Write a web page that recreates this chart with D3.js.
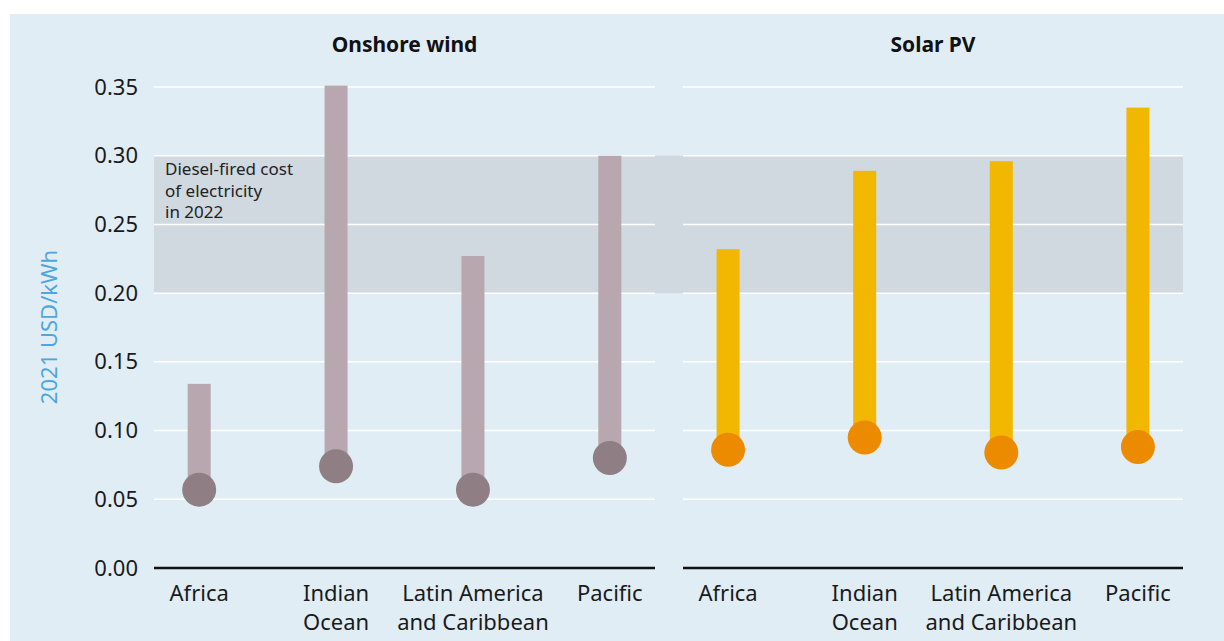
<!DOCTYPE html>
<html>
<head>
<meta charset="utf-8">
<script src="https://d3js.org/d3.v7.min.js"></script>
<style>
  body { margin: 0; background: #fff; }
  text { font-family: "Noto Sans", sans-serif; }
</style>
</head>
<body>
<script>
// data
var regions = ['Africa', 'Indian Ocean', 'Latin America and Caribbean', 'Pacific'];
var regionLines = [['Africa'], ['Indian', 'Ocean'], ['Latin America', 'and Caribbean'], ['Pacific']];
var techs = ['Onshore wind', 'Solar PV'];
var windHigh = [0.134, 0.351, 0.227, 0.300];
var windLow = [0.057, 0.074, 0.057, 0.080];
var solarHigh = [0.232, 0.289, 0.296, 0.335];
var solarLow = [0.086, 0.095, 0.084, 0.088];
var yTicks = [0, 0.05, 0.10, 0.15, 0.20, 0.25, 0.30, 0.35];
var dieselBand = [0.20, 0.30];

var W = 1224, H = 641;
var svg = d3.select('body').append('svg').attr('width', W).attr('height', H);

svg.append('rect').attr('x', 10).attr('y', 14).attr('width', W - 10).attr('height', H - 14)
  .attr('fill', '#e1edf5');

var y = d3.scaleLinear().domain([0, 0.35]).range([568, 87]);

var panels = [
  { name: techs[0], x0: 154, x1: 655, high: windHigh, low: windLow, bar: '#b8a7ae', dot: '#8f7f84' },
  { name: techs[1], x0: 683, x1: 1183, high: solarHigh, low: solarLow, bar: '#f2b700', dot: '#ec8a00' }
];

// diesel band across both panels
svg.append('rect')
  .attr('x', panels[0].x0).attr('width', panels[1].x1 - panels[0].x0)
  .attr('y', y(dieselBand[1])).attr('height', y(dieselBand[0]) - y(dieselBand[1]))
  .attr('fill', '#d0d8e0');

panels.forEach(function(p) {
  var x = d3.scalePoint().domain(regions).range([p.x0, p.x1]).padding(0.33);
  var g = svg.append('g');

  // grid
  g.selectAll('line.grid').data(yTicks.slice(1)).enter().append('line')
    .attr('x1', p.x0).attr('x2', p.x1)
    .attr('y1', function(d) { return y(d); }).attr('y2', function(d) { return y(d); })
    .attr('stroke', '#ffffff').attr('stroke-width', 1.5);

  // bars
  g.selectAll('rect.bar').data(regions).enter().append('rect')
    .attr('x', function(d) { return x(d) - 11.5; })
    .attr('width', 23)
    .attr('y', function(d, i) { return y(p.high[i]); })
    .attr('height', function(d, i) { return y(p.low[i]) - y(p.high[i]); })
    .attr('fill', p.bar);

  g.selectAll('circle').data(regions).enter().append('circle')
    .attr('cx', function(d) { return x(d); })
    .attr('cy', function(d, i) { return y(p.low[i]); })
    .attr('r', 17)
    .attr('fill', p.dot);

  // baseline
  g.append('line').attr('x1', p.x0).attr('x2', p.x1)
    .attr('y1', y(0)).attr('y2', y(0))
    .attr('stroke', '#111').attr('stroke-width', 2.5);

  // category labels
  var lab = g.selectAll('text.cat').data(regions).enter().append('text')
    .attr('text-anchor', 'middle')
    .attr('font-size', 22)
    .attr('fill', '#1a1a1a');
  lab.each(function(d, i) {
    var t = d3.select(this);
    regionLines[i].forEach(function(line, k) {
      t.append('tspan').attr('x', x(d)).attr('y', 601 + k * 29).text(line);
    });
  });

  // panel title
  g.append('text').attr('x', (p.x0 + p.x1) / 2).attr('y', 52)
    .attr('text-anchor', 'middle').attr('font-size', 21).attr('font-weight', 'bold')
    .attr('fill', '#111').text(p.name);
});

// y axis labels
var yAxis = d3.axisLeft(y).tickValues(yTicks).tickFormat(d3.format('.2f')).tickSize(0).tickPadding(0);
var ya = svg.append('g').attr('transform', 'translate(138,0)').call(yAxis);
ya.select('.domain').remove();
ya.selectAll('text').attr('font-size', 22).attr('fill', '#1a1a1a')
  .attr('font-family', '"Noto Sans", sans-serif');

svg.append('text')
  .attr('transform', 'translate(57,327) rotate(-90)')
  .attr('text-anchor', 'middle').attr('font-size', 22).attr('fill', '#4fa6dc')
  .text('2021 USD/kWh');

// annotation
var note = svg.append('text').attr('font-size', 17).attr('fill', '#222');
['Diesel-fired cost', 'of electricity', 'in 2022'].forEach(function(s, k) {
  note.append('tspan').attr('x', 165).attr('y', 175 + k * 21.5).text(s);
});
</script>
</body>
</html>
